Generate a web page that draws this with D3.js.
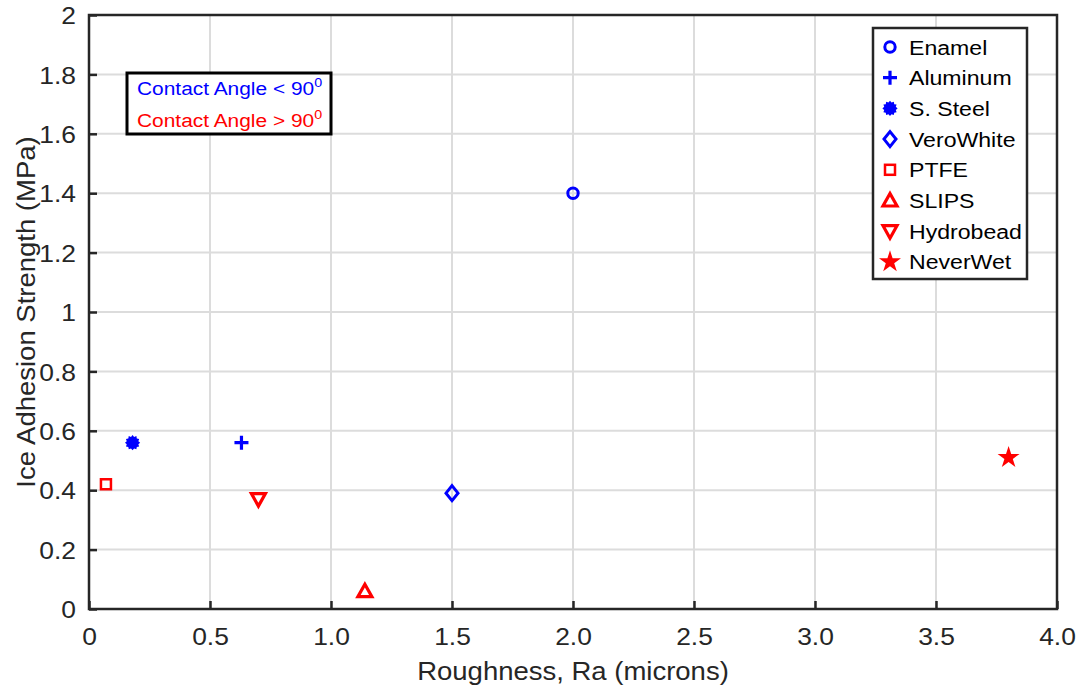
<!DOCTYPE html>
<html>
<head>
<meta charset="utf-8">
<script src="https://cdn.jsdelivr.net/npm/d3@7"></script>
<style>
  html, body { margin: 0; padding: 0; background: #fff; }
  svg { display: block; font-family: "Liberation Sans", Arial, Helvetica, sans-serif; }
</style>
</head>
<body>
<svg id="chart" width="1085" height="691"></svg>
<script>
// Surface materials, their roughness and measured ice adhesion
const materials = ["Enamel", "Aluminum", "S. Steel", "VeroWhite", "PTFE", "SLIPS", "Hydrobead", "NeverWet"];
const roughness = [2.0, 0.63, 0.18, 1.5, 0.07, 1.14, 0.70, 3.8];
const adhesion  = [1.40, 0.56, 0.56, 0.39, 0.42, 0.06, 0.37, 0.51];
const hydrophobic = [false, false, false, false, true, true, true, true];
const markerKinds = ["circle", "plus", "burst", "diamond", "square", "triUp", "triDown", "star"];

const xTicks = [0, 0.5, 1.0, 1.5, 2.0, 2.5, 3.0, 3.5, 4.0];
const xTickLabels = ["0", "0.5", "1.0", "1.5", "2.0", "2.5", "3.0", "3.5", "4.0"];
const yTicks = [0, 0.2, 0.4, 0.6, 0.8, 1.0, 1.2, 1.4, 1.6, 1.8, 2.0];
const yTickLabels = ["0", "0.2", "0.4", "0.6", "0.8", "1", "1.2", "1.4", "1.6", "1.8", "2"];

const BLUE = "#0000ff", RED = "#ff0000", AXIS = "#262626";
const STRETCH = 1.1; // slightly wide lettering

const svg = d3.select("#chart");
const margin = { left: 89, top: 15, right: 28, bottom: 82 };
const W = 1085 - margin.left - margin.right;
const H = 691 - margin.top - margin.bottom;

const x = d3.scaleLinear().domain([0, 4]).range([0, W]);
const y = d3.scaleLinear().domain([0, 2]).range([H, 0]);

// widen text horizontally around its anchor x
function stretch(sel) {
  sel.each(function () {
    const t = d3.select(this);
    const ax = +(t.attr("x") || 0);
    const prev = t.attr("transform") || "";
    t.attr("transform", `${prev} translate(${ax},0) scale(${STRETCH},1) translate(${-ax},0)`);
  });
}

const g = svg.append("g").attr("transform", `translate(${margin.left},${margin.top})`);

// grid
g.append("g").selectAll("line").data(xTicks.slice(1, -1)).join("line")
  .attr("x1", d => x(d)).attr("x2", d => x(d)).attr("y1", 0).attr("y2", H)
  .attr("stroke", "#dcdcdc").attr("stroke-width", 2);
g.append("g").selectAll("line").data(yTicks.slice(1, -1)).join("line")
  .attr("x1", 0).attr("x2", W).attr("y1", d => y(d)).attr("y2", d => y(d))
  .attr("stroke", "#dcdcdc").attr("stroke-width", 2);

// axes with inward ticks
const xAxis = d3.axisBottom(x).tickValues(xTicks)
  .tickFormat((d, i) => xTickLabels[i]).tickSizeInner(-8).tickSizeOuter(0).tickPadding(14);
const yAxis = d3.axisLeft(y).tickValues(yTicks)
  .tickFormat((d, i) => yTickLabels[i]).tickSizeInner(-8).tickSizeOuter(0).tickPadding(13);

const gx = g.append("g").attr("transform", `translate(0,${H})`).call(xAxis);
const gy = g.append("g").call(yAxis);
[gx, gy].forEach(a => {
  a.select(".domain").remove();
  a.selectAll(".tick line").attr("stroke", AXIS).attr("stroke-width", 2.5);
  a.selectAll(".tick text").attr("fill", AXIS).style("font-size", "24px")
    .style("font-family", "'Liberation Sans', Arial, sans-serif");
});
gx.selectAll(".tick text").attr("dy", "0.9em");
gy.selectAll(".tick text").attr("dy", "0.36em");
stretch(gx.selectAll(".tick text"));
stretch(gy.selectAll(".tick text"));

// plot box
g.append("rect").attr("x", 0).attr("y", 0).attr("width", W).attr("height", H)
  .attr("fill", "none").attr("stroke", AXIS).attr("stroke-width", 2.5);

// axis titles
svg.append("text").attr("x", margin.left + W / 2).attr("y", 680)
  .attr("text-anchor", "middle").attr("fill", AXIS).style("font-size", "25px")
  .text("Roughness, Ra (microns)")
  .call(stretch);
svg.append("text").attr("transform", `translate(35,${margin.top + H / 2}) rotate(-90) scale(${STRETCH},1)`)
  .attr("text-anchor", "middle").attr("fill", AXIS).style("font-size", "25px")
  .text("Ice Adhesion Strength (MPa)");

// marker drawing
function burstPath(ro, ri, n) {
  const pts = [];
  for (let k = 0; k < 2 * n; k++) {
    const a = Math.PI * k / n - Math.PI / 2;
    const r = k % 2 === 0 ? ro : ri;
    pts.push([r * Math.cos(a), r * Math.sin(a)]);
  }
  return "M" + pts.map(p => p.join(",")).join("L") + "Z";
}
function drawMarker(sel, kind, color) {
  switch (kind) {
    case "circle":
      sel.append("circle").attr("r", 5.2).attr("fill", "none").attr("stroke", color).attr("stroke-width", 3);
      break;
    case "plus":
      sel.append("path").attr("d", "M-7,0H7M0,-7V7").attr("stroke", color).attr("stroke-width", 3.2);
      break;
    case "burst":
      sel.append("path").attr("d", burstPath(7.6, 6.0, 12)).attr("fill", color);
      break;
    case "diamond":
      sel.append("path").attr("d", "M0,-7.5L6,0L0,7.5L-6,0Z").attr("fill", "none").attr("stroke", color).attr("stroke-width", 3);
      break;
    case "square":
      sel.append("rect").attr("x", -5).attr("y", -5).attr("width", 10).attr("height", 10)
        .attr("fill", "none").attr("stroke", color).attr("stroke-width", 2.5);
      break;
    case "triUp":
      sel.append("path").attr("d", "M0,-7L7,5.5L-7,5.5Z").attr("fill", "none").attr("stroke", color)
        .attr("stroke-width", 3.2).attr("stroke-linejoin", "miter");
      break;
    case "triDown":
      sel.append("path").attr("d", "M0,7L7,-5.5L-7,-5.5Z").attr("fill", "none").attr("stroke", color)
        .attr("stroke-width", 3.2).attr("stroke-linejoin", "miter");
      break;
    case "star": {
      const s = d3.symbol().type(d3.symbolStar).size(150)();
      sel.append("path").attr("d", s).attr("fill", color);
      break;
    }
  }
}

// data points
materials.forEach((m, i) => {
  const mg = g.append("g").attr("transform", `translate(${x(roughness[i])},${y(adhesion[i])})`);
  drawMarker(mg, markerKinds[i], hydrophobic[i] ? RED : BLUE);
});

// legend
const leg = svg.append("g");
leg.append("rect").attr("x", 873).attr("y", 28).attr("width", 154).attr("height", 251)
  .attr("fill", "#fff").attr("stroke", AXIS).attr("stroke-width", 2.5);
materials.forEach((m, i) => {
  const ly = 47 + i * 30.7;
  const mg = leg.append("g").attr("transform", `translate(890,${ly})`);
  drawMarker(mg, markerKinds[i], hydrophobic[i] ? RED : BLUE);
  leg.append("text").attr("x", 909).attr("y", ly).attr("dy", "0.36em")
    .attr("fill", "#000").style("font-size", "21px").text(m)
    .call(stretch);
});

// contact angle note
const note = svg.append("g");
note.append("rect").attr("x", 127).attr("y", 73).attr("width", 204).attr("height", 61)
  .attr("fill", "#fff").attr("stroke", "#000").attr("stroke-width", 3);
const noteLines = [
  { text: "Contact Angle < 90", color: BLUE, y: 95 },
  { text: "Contact Angle > 90", color: RED, y: 127 }
];
noteLines.forEach(l => {
  const t = note.append("text").attr("x", 137).attr("y", l.y).attr("fill", l.color).style("font-size", "19px");
  t.append("tspan").text(l.text);
  t.append("tspan").attr("dy", -8).style("font-size", "13px").text("0");
  t.call(stretch);
});
</script>
</body>
</html>
